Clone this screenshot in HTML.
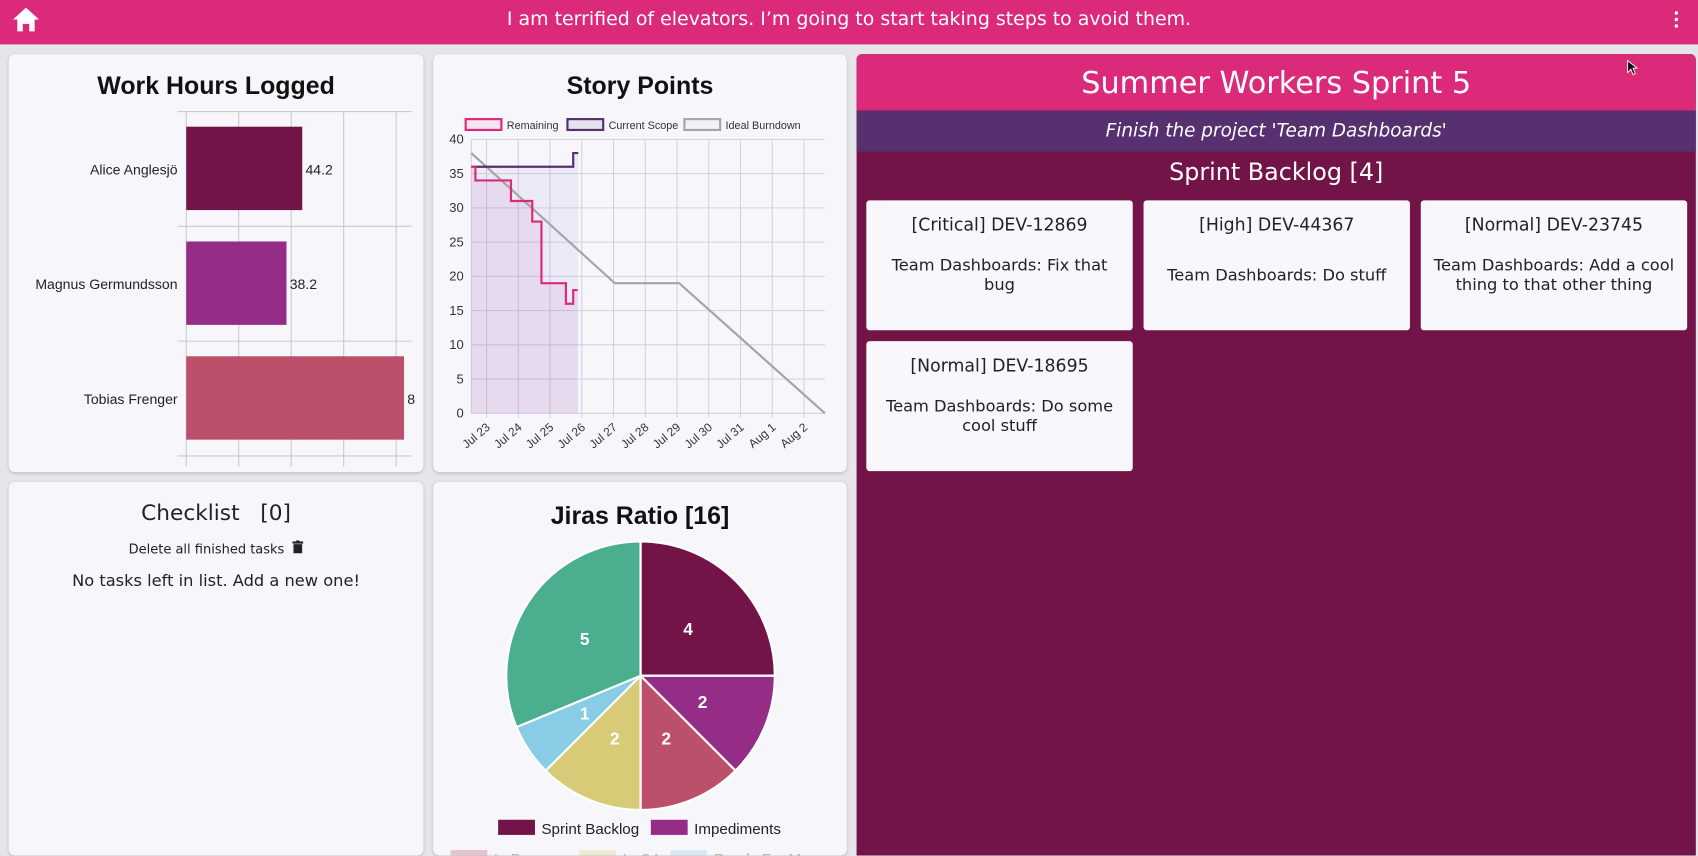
<!DOCTYPE html>
<html><head><meta charset="utf-8">
<style>
html,body{margin:0;padding:0;width:1698px;height:849px;overflow:hidden;background:#e6e5ea;font-family:"Liberation Sans",sans-serif}
#wrap{position:absolute;left:0;top:0;width:1568px;height:784px;transform:scale(1.08291);transform-origin:0 0}
.card{position:absolute;background:#f7f6fb;border-radius:6px;box-shadow:0 1px 3px rgba(0,0,0,.18);overflow:hidden}
.hdr{position:absolute;left:0;top:0;width:1568px;height:41px;background:#dc2a7a;color:#fff;font-size:17.5px;text-align:center;line-height:36px;font-family:"DejaVu Sans","Liberation Sans",sans-serif}
.title{position:absolute;width:100%;text-align:center;font-weight:bold;font-size:23px;color:#111}
.bl{position:absolute;background:#f8f7fc;border-radius:3px;width:246px;height:120px;text-align:center;font-family:"DejaVu Sans","Liberation Sans",sans-serif;color:#222}
.bl .t{position:absolute;top:13px;width:100%;font-size:16px}
.bl .d{position:absolute;width:100%;font-size:15px;line-height:18px;top:0;height:100%;display:flex;align-items:center;justify-content:center;padding:18px 6px 0;box-sizing:border-box}
</style></head><body>
<div id="wrap">
<div class="hdr">
 <svg style="position:absolute;left:11px;top:6px" width="26" height="24" viewBox="0 0 26 24"><path d="M13 1 L1 12 H5 V23 H10 V16 H16 V23 H21 V12 H25 Z" fill="#fff"/></svg>
 <span>I am terrified of elevators. I’m going to start taking steps to avoid them.</span>
 <svg style="position:absolute;left:1544px;top:10px" width="8" height="16"><circle cx="4" cy="2" r="1.6" fill="#fff"/><circle cx="4" cy="8" r="1.6" fill="#fff"/><circle cx="4" cy="14" r="1.6" fill="#fff"/></svg>
</div>

<div class="card" style="left:8px;top:50px;width:383px;height:386px">
 <div class="title" style="top:16px">Work Hours Logged</div>
 <svg id="bar" width="383" height="386" style="position:absolute;left:0;top:0"></svg>
</div>

<div class="card" style="left:400px;top:50px;width:382px;height:386px">
 <div class="title" style="top:16px">Story Points</div>
 <svg id="burn" width="382" height="386" style="position:absolute;left:0;top:0"></svg>
</div>

<div class="card" style="left:8px;top:445px;width:383px;height:345px;font-family:'DejaVu Sans','Liberation Sans',sans-serif;text-align:center;color:#222">
 <div style="position:absolute;top:16px;width:100%;font-size:20px">Checklist &nbsp; [0]</div>
 <div style="position:absolute;top:54px;width:100%;font-size:12px">Delete all finished tasks &nbsp;<svg width="10" height="12" viewBox="0 0 10 12"><rect x="0" y="1" width="10" height="2" fill="#222"/><rect x="3.5" y="0" width="3" height="1.5" fill="#222"/><rect x="1" y="3.5" width="8" height="8.5" fill="#222"/></svg></div>
 <div style="position:absolute;top:82px;width:100%;font-size:15px">No tasks left in list. Add a new one!</div>
</div>

<div class="card" style="left:400px;top:445px;width:382px;height:345px">
 <div class="title" style="top:18px">Jiras Ratio [16]</div>
 <svg id="pie" width="382" height="345" style="position:absolute;left:0;top:0"></svg>
</div>

<div style="position:absolute;left:791px;top:50px;width:775px;height:740px;background:#721447;border-radius:5px 5px 0 0;overflow:hidden;font-family:'DejaVu Sans','Liberation Sans',sans-serif">
 <div style="position:absolute;left:0;top:0;width:100%;height:52px;background:#dc2a7a;color:#fff;text-align:center;font-size:28px;line-height:54px">Summer Workers Sprint 5</div>
 <div style="position:absolute;left:0;top:52px;width:100%;height:38px;background:#57306f;color:#fff;text-align:center;font-size:17px;line-height:38px;font-style:italic">Finish the project 'Team Dashboards'</div>
 <div style="position:absolute;top:97px;width:100%;text-align:center;color:#fff;font-size:22px">Sprint Backlog [4]</div>
 <div class="bl" style="left:9px;top:135px"><div class="t">[Critical] DEV-12869</div><div class="d" style="padding-left:18px;padding-right:18px">Team Dashboards: Fix that bug</div></div>
 <div class="bl" style="left:265px;top:135px"><div class="t">[High] DEV-44367</div><div class="d">Team Dashboards: Do stuff</div></div>
 <div class="bl" style="left:521px;top:135px"><div class="t">[Normal] DEV-23745</div><div class="d">Team Dashboards: Add a cool thing to that other thing</div></div>
 <div class="bl" style="left:9px;top:265px"><div class="t">[Normal] DEV-18695</div><div class="d" style="padding-left:14px;padding-right:14px">Team Dashboards: Do some cool stuff</div></div>
</div>
<svg style="position:absolute;left:1502px;top:55px" width="10" height="15"><path d="M1 1 L1 12 L4 9 L6 14 L8 13 L6 8 L10 8 Z" fill="#111" stroke="#fff" stroke-width="0.8"/></svg>
</div>

<script>
var NS='http://www.w3.org/2000/svg';
function mk(p,t,a){var e=document.createElementNS(NS,t);for(var k in a)e.setAttribute(k,a[k]);p.appendChild(e);return e;}

// ---- Work hours data ----
var workers=['Alice Anglesjö','Magnus Germundsson','Tobias Frenger'];
var hours=[44.2,38.2,83];
var hourLabels=['44.2','38.2','8'];
var barColors=['#721447','#952d86','#bc506b'];
var xTicks=[0,20,40,60,80];

// ---- Story points data ----
var dayLabels=['Jul 23','Jul 24','Jul 25','Jul 26','Jul 27','Jul 28','Jul 29','Jul 30','Jul 31','Aug 1','Aug 2'];
var yTicks=[0,5,10,15,20,25,30,35,40];
var remT=[-0.48,-0.35,0.77,1.44,1.73,2.5,2.73,2.87];
var remV=[36,34,31,28,19,16,18,18];
var scopeT=[-0.48,2.73,2.89];
var scopeV=[36,38,38];
var idealT=[-0.48,4.04,6.07,10.66];
var idealV=[38,19,19,0];

// ---- Pie data ----
var pieLabels=['Sprint Backlog','Impediments','In Progress','In QA','Ready For Merge','Done'];
var pieValues=[4,2,2,2,1,5];
var pieColors=['#721447','#952d86','#bc506b','#d8cb77','#88cce6','#4aae8f'];

// bar chart (card-local coords)
(function(){
 var s=document.getElementById('bar');
 var x0=164,pxPer=2.423,top=53,bandH=106;
 function X(v){return x0+v*pxPer;}
 for(var i=0;i<xTicks.length;i++){var l=mk(s,'line',{x1:X(xTicks[i]),x2:X(xTicks[i]),y1:top,y2:top+bandH*3+10,stroke:'#ccc8d2'});}
 for(var j=0;j<=3;j++){var g=mk(s,'line',{x1:x0-8,x2:372,y1:top+j*bandH,y2:top+j*bandH,stroke:'#ccc8d2'});}
 for(var i=0;i<workers.length;i++){
  var y=top+i*bandH;
  var r=mk(s,'rect',{x:x0,y:y+14,width:X(hours[i])-x0,height:77,fill:barColors[i]});
  
  
  var t=mk(s,'text',{x:x0-8,y:y+58,'text-anchor':'end','font-size':13,fill:'#222'});t.textContent=workers[i];
  
  var v=mk(s,'text',{x:X(hours[i])+3,y:y+58,'font-size':13,fill:'#222'});v.textContent=hourLabels[i];
  
 }
})();

// burndown (card-local)
(function(){
 var s=document.getElementById('burn');
 var L=35.2,R=361.8,T=78.7,B=331.7,d0=-0.48,d1=10.66;
 function X(d){return L+(d-d0)/(d1-d0)*(R-L);}
 function Y(v){return B-v/40*(B-T);}
 for(var i=0;i<yTicks.length;i++){var y=Y(yTicks[i]);var g=mk(s,'line',{x1:L,x2:R,y1:y,y2:y,stroke:'#d6d2dc'});
  var t=mk(s,'text',{x:L-7,y:y+4,'text-anchor':'end','font-size':12,fill:'#333'});t.textContent=yTicks[i];}
 mk(s,'line',{x1:L,x2:L,y1:T,y2:B,stroke:'#d6d2dc'});
 for(var i=0;i<dayLabels.length;i++){var x=X(i);var g=mk(s,'line',{x1:x,x2:x,y1:T,y2:B+4,stroke:'#d6d2dc'});
  var t=mk(s,'text',{x:x+4,y:B+14,'text-anchor':'end','font-size':11,fill:'#333',transform:'rotate(-40 '+(x+4)+' '+(B+14)+')'});t.textContent=dayLabels[i];}
 function step(T_,V_){var p='M'+X(T_[0])+' '+Y(V_[0]);for(var i=1;i<T_.length;i++){p+=' H'+X(T_[i])+' V'+Y(V_[i]);}return p;}
 var sEnd=scopeT[scopeT.length-1];
 var fs=mk(s,'path',{d:step(scopeT,scopeV)+' H'+X(sEnd)+' V'+B+' H'+X(scopeT[0])+'Z',fill:'rgba(120,100,200,0.08)'});
 var fr=mk(s,'path',{d:step(remT,remV)+' V'+B+' H'+X(remT[0])+'Z',fill:'rgba(180,80,170,0.10)'});
 var ip='';for(var i=0;i<idealT.length;i++)ip+=(i?'L':'M')+X(idealT[i])+' '+Y(idealV[i]);
 var il=mk(s,'path',{d:ip,fill:'none',stroke:'#a6a4aa','stroke-width':2});
 var sl=mk(s,'path',{d:step(scopeT,scopeV),fill:'none',stroke:'#57306f','stroke-width':2});
 var rl=mk(s,'path',{d:step(remT,remV),fill:'none',stroke:'#dc2a7a','stroke-width':2});
 var leg=[['Remaining','#dc2a7a','rgba(220,42,122,0.08)',30],['Current Scope','#57306f','rgba(87,48,111,0.1)',124],['Ideal Burndown','#a6a4aa','rgba(0,0,0,0.02)',232]];
 for(var i=0;i<leg.length;i++){var g=mk(s,'g',{});
  mk(g,'rect',{x:leg[i][3],y:60,width:33,height:10,fill:leg[i][2],stroke:leg[i][1],'stroke-width':2});
  var t=mk(g,'text',{x:leg[i][3]+38,y:69,'font-size':10,fill:'#333'});t.textContent=leg[i][0];}
})();

// pie (card-local)
(function(){
 var s=document.getElementById('pie');
 var cx=191.5,cy=179,r=124,tot=0;for(var i=0;i<pieValues.length;i++)tot+=pieValues[i];
 var a=-Math.PI/2;
 for(var i=0;i<pieValues.length;i++){
  var da=pieValues[i]/tot*2*Math.PI,a2=a+da;
  var p='M'+cx+' '+cy+' L'+(cx+r*Math.cos(a))+' '+(cy+r*Math.sin(a))+' A'+r+' '+r+' 0 '+(da>Math.PI?1:0)+' 1 '+(cx+r*Math.cos(a2))+' '+(cy+r*Math.sin(a2))+'Z';
  var sl=mk(s,'path',{d:p,fill:pieColors[i],stroke:'#fff','stroke-width':2});
  
  
  var m=(a+a2)/2,lr=r*0.5;
  var t=mk(s,'text',{x:cx+lr*Math.cos(m),y:cy+lr*Math.sin(m)+6,'text-anchor':'middle','font-size':16,'font-weight':'bold',fill:'#fff'});t.textContent=pieValues[i];
  
  a=a2;
 }
 var lx=[60,201,16,135,219],ly=[320,320,348,348,348],op=[1,1,0.3,0.3,0.3];
 for(var i=0;i<5;i++){var g=mk(s,'g',{opacity:op[i]});
  mk(g,'rect',{x:lx[i],y:ly[i]-8,width:34,height:14,fill:pieColors[i]});
  var t=mk(g,'text',{x:lx[i]+40,y:ly[i]+5,'font-size':14,fill:'#222'});t.textContent=pieLabels[i];}
})();
</script>
</body></html>
